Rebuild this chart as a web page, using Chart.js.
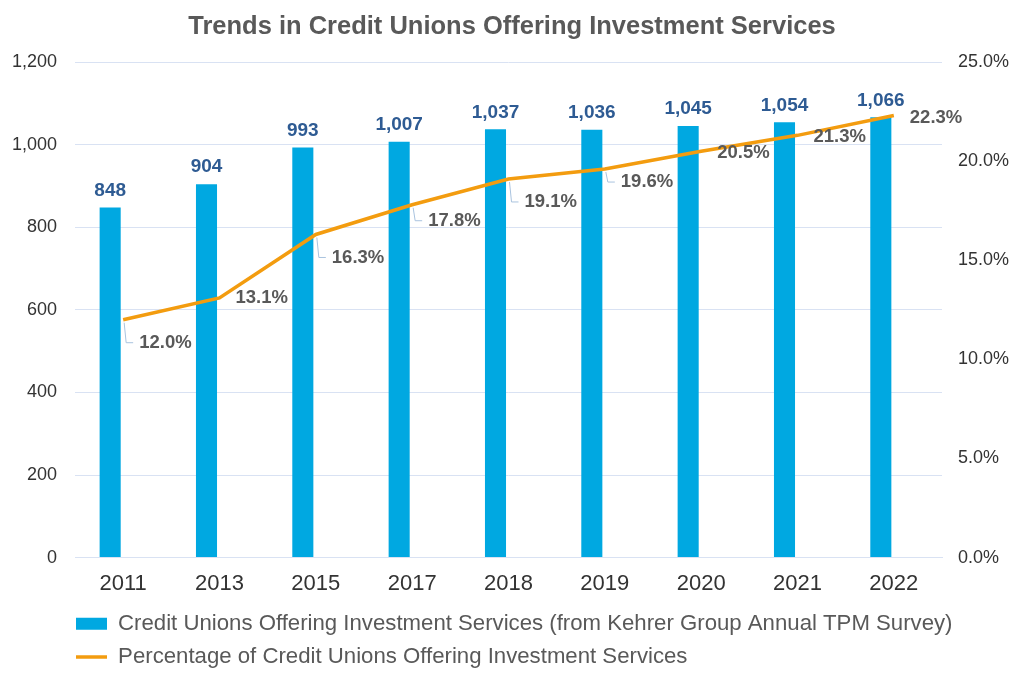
<!DOCTYPE html>
<html>
<head>
<meta charset="utf-8">
<script src="https://cdn.jsdelivr.net/npm/chart.js@4.4.1/dist/chart.umd.min.js"></script>
<style>
  html, body { margin: 0; padding: 0; background: #fff; }
  #wrap { width: 1024px; height: 683px; }
</style>
</head>
<body>
<div id="wrap"><canvas id="cuChart" width="1024" height="683"></canvas></div>
<script>
const years = ['2011', '2013', '2015', '2017', '2018', '2019', '2020', '2021', '2022'];
const creditUnions = [848, 904, 993, 1007, 1037, 1036, 1045, 1054, 1066];
const pctOffering = [12.0, 13.1, 16.3, 17.8, 19.1, 19.6, 20.5, 21.3, 22.3];
const leftTicks = [0, 200, 400, 600, 800, 1000, 1200];
const rightTicks = [0, 5, 10, 15, 20, 25];

const FONT = "'Liberation Sans', Arial, sans-serif";

// vertical shift of each percentage label below its point (leader line when big)
const pctShift = [23, 0, 23, 16, 23, 13, 2, 2, 2];

const labelPlugin = {
  id: 'valueLabels',
  afterLayout(chart) {
    // legend starts under the plot, not at the canvas edge
    chart.legend.left = 65;
  },
  afterDatasetsDraw(chart) {
    const ctx = chart.ctx;
    ctx.save();
    // bar values
    const barMeta = chart.getDatasetMeta(0);
    ctx.font = 'bold 19px ' + FONT;
    ctx.fillStyle = '#2E5B93';
    ctx.textAlign = 'center';
    ctx.textBaseline = 'middle';
    barMeta.data.forEach((bar, i) => {
      ctx.fillText(creditUnions[i].toLocaleString('en-US'), bar.x, bar.y - 17);
    });
    // percentage values
    const lineMeta = chart.getDatasetMeta(2);
    ctx.font = 'bold 18.5px ' + FONT;
    ctx.textAlign = 'left';
    lineMeta.data.forEach((pt, i) => {
      const dy = pctShift[i];
      if (dy >= 10) {
        ctx.strokeStyle = '#A9C3DF';
        ctx.lineWidth = 1;
        ctx.beginPath();
        ctx.moveTo(pt.x + 1, pt.y + 3);
        ctx.lineTo(pt.x + 3, pt.y + dy);
        ctx.lineTo(pt.x + 10, pt.y + dy);
        ctx.stroke();
      }
      ctx.fillStyle = '#595959';
      ctx.fillText(pctOffering[i].toFixed(1) + '%', pt.x + 16, pt.y + dy);
    });
    ctx.restore();
  }
};

const ctx = document.getElementById('cuChart').getContext('2d');
const chart = new Chart(ctx, {
  type: 'bar',
  data: {
    labels: years,
    datasets: [{
      type: 'bar',
      label: 'Credit Unions Offering Investment Services (from Kehrer Group Annual TPM Survey)',
      data: creditUnions,
      backgroundColor: '#00A8E1',
      borderWidth: 0,
      pointStyle: 'rect',
      yAxisID: 'y',
      order: 2,
      categoryPercentage: 0.54,
      barPercentage: 0.81
    }, {
      type: 'bar',
      label: 'spacer',
      data: years.map(() => null),
      backgroundColor: 'rgba(0,0,0,0)',
      yAxisID: 'y',
      order: 3,
      categoryPercentage: 0.54,
      barPercentage: 0.81
    }, {
      type: 'line',
      label: 'Percentage of Credit Unions Offering Investment Services',
      data: pctOffering,
      borderColor: '#F39C0F',
      backgroundColor: '#F39C0F',
      borderWidth: 3.5,
      pointRadius: 0,
      pointStyle: 'line',
      tension: 0,
      yAxisID: 'y1',
      order: 0
    }]
  },
  options: {
    responsive: false,
    animation: false,
    devicePixelRatio: 1,
    layout: { padding: { left: 0, right: 0, top: 0, bottom: 5 } },
    plugins: {
      title: {
        display: true,
        text: 'Trends in Credit Unions Offering Investment Services',
        color: '#595959',
        font: { family: FONT, size: 25.5, weight: 'bold' },
        padding: { top: 12, bottom: 19.4 }
      },
      legend: {
        position: 'bottom',
        align: 'start',
        labels: {
          color: '#595959',
          font: { family: FONT, size: 22.2 },
          usePointStyle: true,
          pointStyleWidth: 31,
          boxHeight: 12,
          padding: 11,
          sort: (a, b) => a.datasetIndex - b.datasetIndex,
          filter: item => item.datasetIndex !== 1
        }
      },
      tooltip: { enabled: false }
    },
    scales: {
      x: {
        grid: { display: false, drawTicks: false },
        border: { color: '#D9E2F3', width: 1 },
        ticks: { color: '#333333', font: { family: FONT, size: 22 }, padding: 13 },
        afterFit(scale) { scale.height = 44; }
      },
      y: {
        position: 'left',
        min: 0,
        max: 1200,
        afterBuildTicks(scale) { scale.ticks = leftTicks.map(v => ({ value: v })); },
        grid: { color: '#D9E2F3', drawTicks: false },
        border: { display: false },
        ticks: {
          color: '#333333',
          font: { family: FONT, size: 18 },
          padding: 18,
          callback: v => v.toLocaleString('en-US')
        },
        afterFit(scale) { scale.width = 75; }
      },
      y1: {
        position: 'right',
        min: 0,
        max: 25,
        afterBuildTicks(scale) { scale.ticks = rightTicks.map(v => ({ value: v })); },
        grid: { display: false, drawTicks: false },
        border: { display: false },
        ticks: {
          color: '#333333',
          font: { family: FONT, size: 18 },
          padding: 16,
          callback: v => v.toFixed(1) + '%'
        },
        afterFit(scale) { scale.width = 82; }
      }
    }
  },
  plugins: [labelPlugin]
});
</script>
</body>
</html>
